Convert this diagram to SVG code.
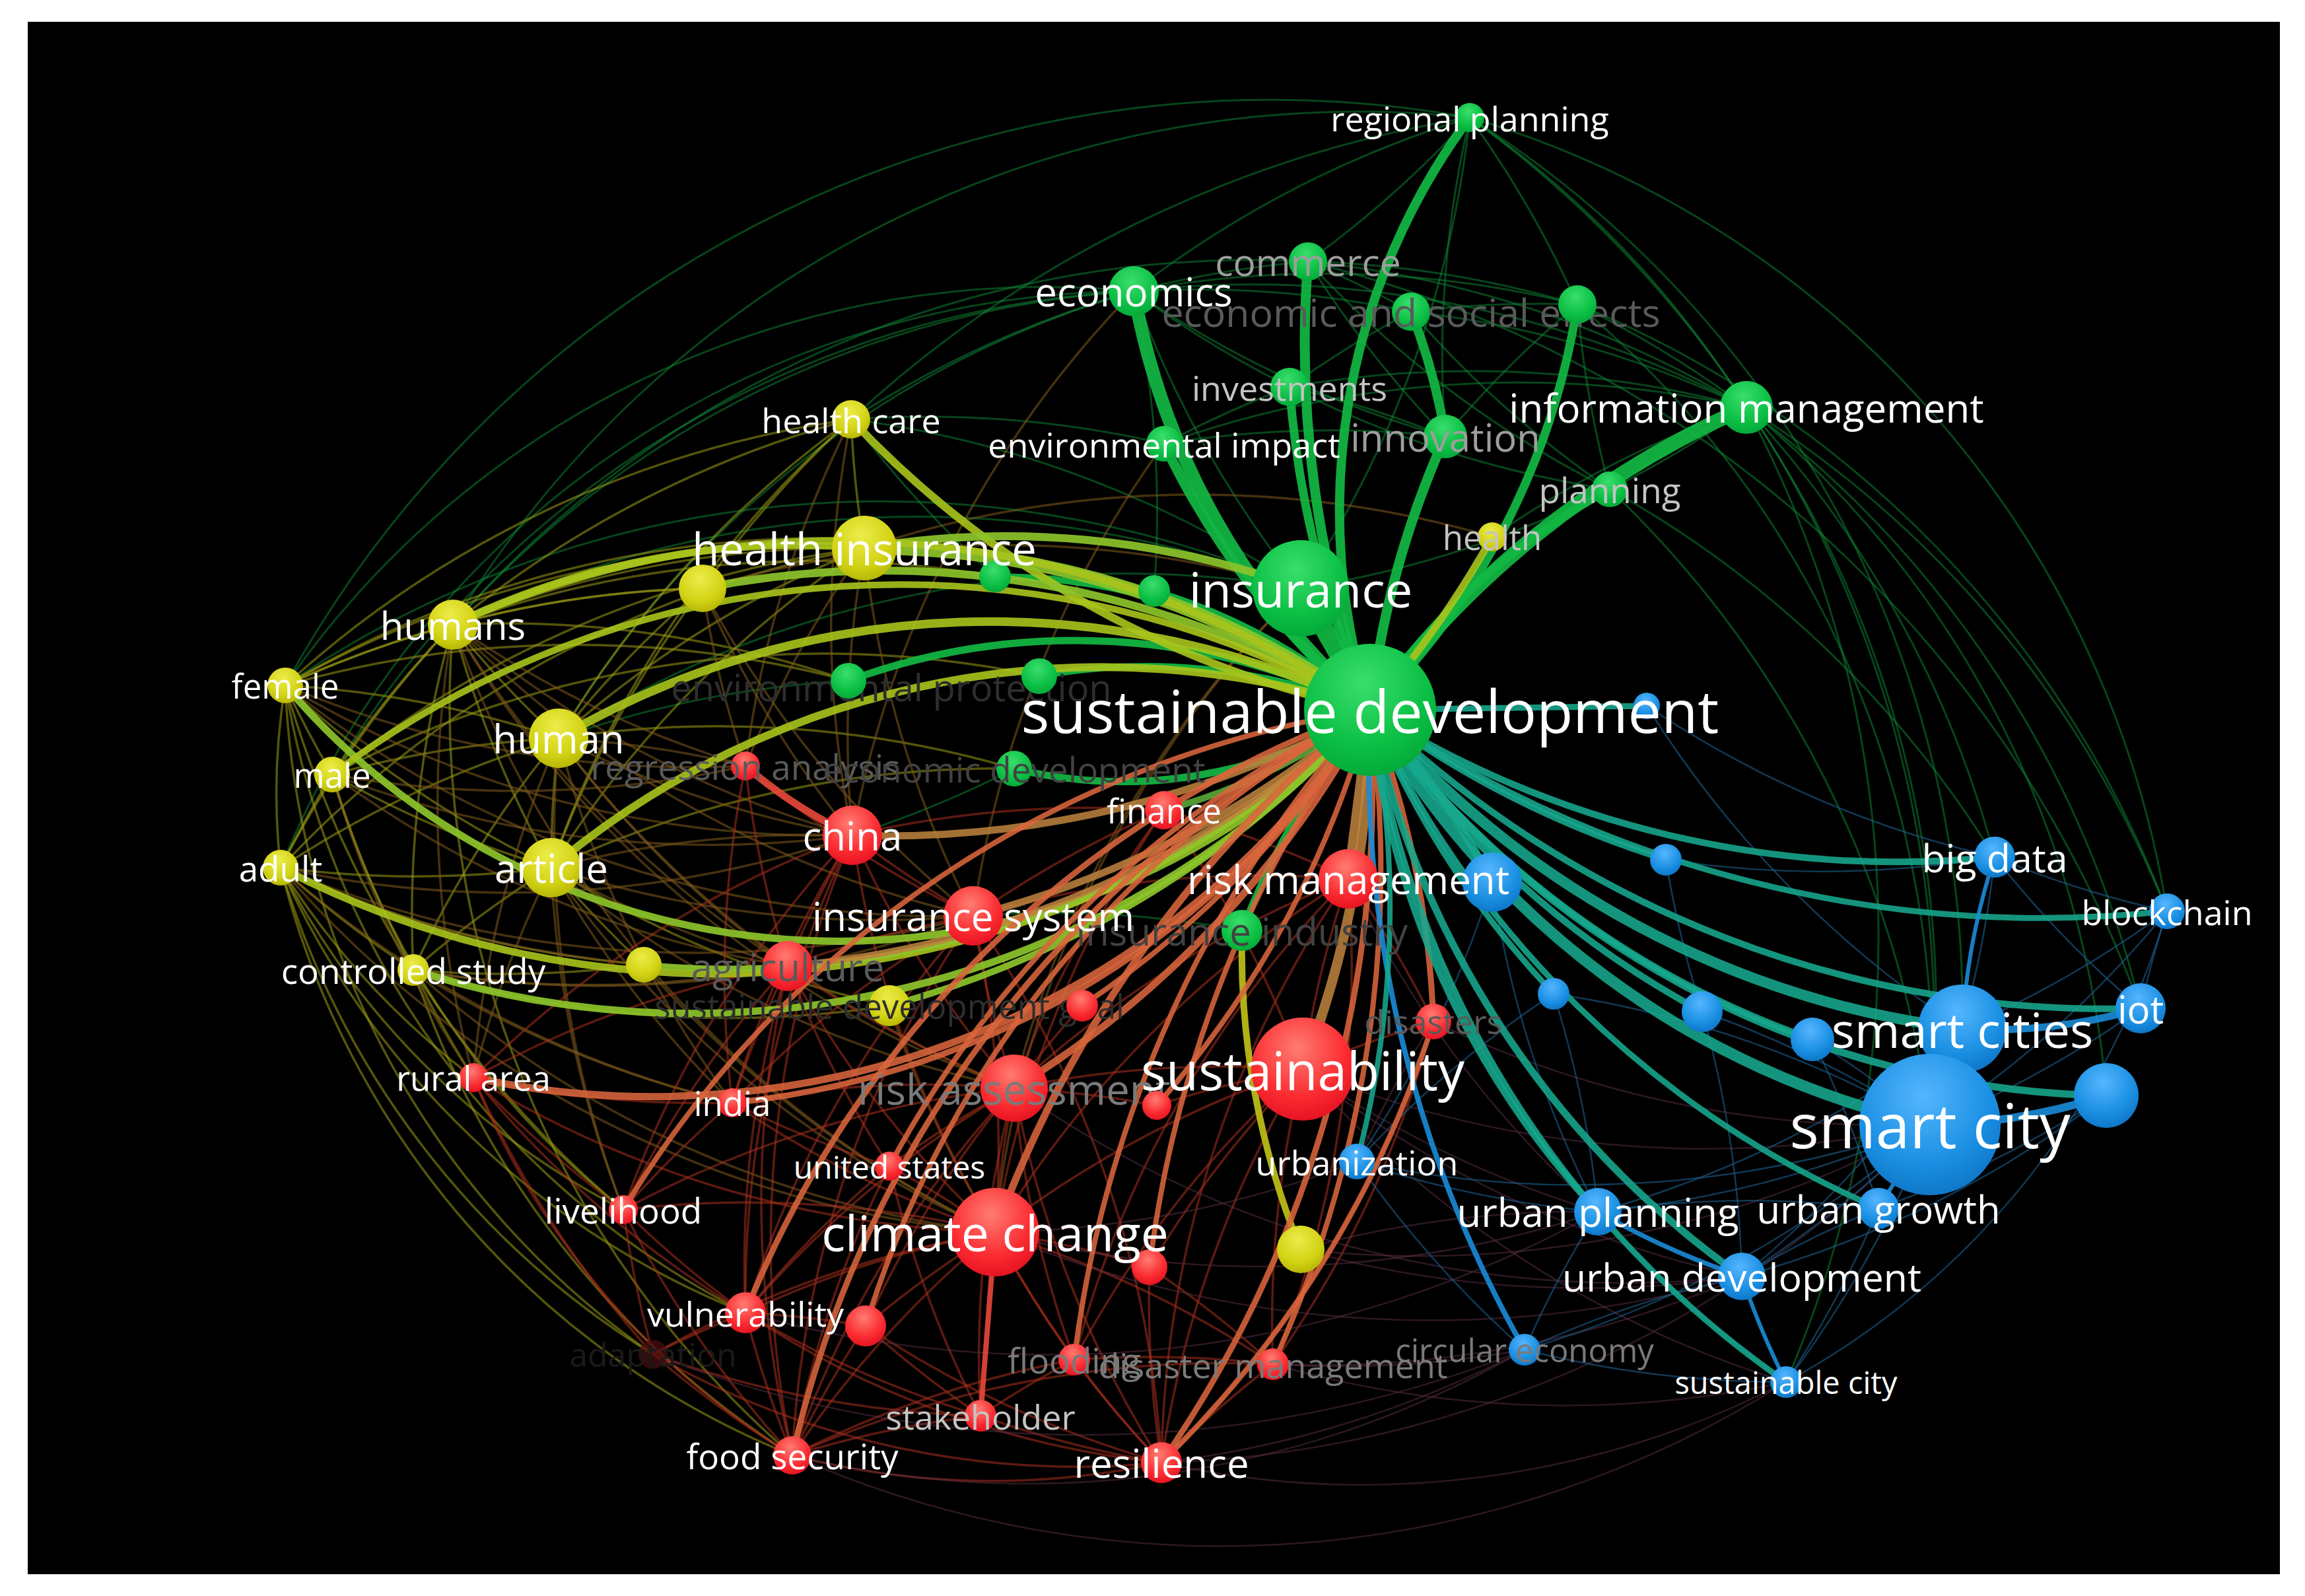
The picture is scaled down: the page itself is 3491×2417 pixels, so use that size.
<svg xmlns="http://www.w3.org/2000/svg" width="3491" height="2417" viewBox="0 0 3491 2417">
<defs>
<radialGradient id="gg" cx="0.45" cy="0.3" r="0.8"><stop offset="0" stop-color="#3ade6c"/><stop offset="0.6" stop-color="#0bbf44"/><stop offset="1" stop-color="#02a035"/></radialGradient>
<radialGradient id="gr" cx="0.45" cy="0.3" r="0.8"><stop offset="0" stop-color="#ff7c72"/><stop offset="0.6" stop-color="#fa2a30"/><stop offset="1" stop-color="#dc0a1c"/></radialGradient>
<radialGradient id="gy" cx="0.45" cy="0.3" r="0.8"><stop offset="0" stop-color="#ecec4a"/><stop offset="0.6" stop-color="#d2d214"/><stop offset="1" stop-color="#abab02"/></radialGradient>
<radialGradient id="gb" cx="0.45" cy="0.3" r="0.8"><stop offset="0" stop-color="#55b6ff"/><stop offset="0.6" stop-color="#1a8fe2"/><stop offset="1" stop-color="#0a6cbc"/></radialGradient>
</defs>
<style>
text{font-family:"Open Sans","DejaVu Sans",sans-serif;text-anchor:middle;dominant-baseline:central}
.lw{fill:#ffffff}
.f1{fill:#c4c4c4}.f2{fill:#9e9e9e}.f3{fill:#7a7a7a}.f4{fill:#5a5a5a}.f5{fill:#424242}.f6{fill:#2e2e2e}.f7{fill:#1a1a1a}
.ng{fill:url(#gg)}.nr{fill:url(#gr)}.ny{fill:url(#gy)}.nb{fill:url(#gb)}
.nd{fill:#4a0c0c;opacity:.75}
#edges path{fill:none;stroke-linecap:round}
.tg{stroke:#0d8a36;stroke-width:3;stroke-opacity:.5}
.ty{stroke:#9a9a14;stroke-width:3.5;stroke-opacity:.55}
.tm{stroke:#7d5a1c;stroke-width:3.5;stroke-opacity:.55}
.tr{stroke:#a8301e;stroke-width:3.5;stroke-opacity:.55}
.tp{stroke:#5c3046;stroke-width:2.5;stroke-opacity:.5}
.tb{stroke:#1c5f8e;stroke-width:2.5;stroke-opacity:.6}
.sg{stroke:#12b843;stroke-opacity:.92}
.sgo{stroke:#5aa83a;stroke-opacity:.9}
.sy{stroke:#a9c41c;stroke-opacity:.9}
.syg{stroke:#8cc42a;stroke-opacity:.92}
.syy{stroke:#c2c418;stroke-opacity:.9}
.so{stroke:#d9653c;stroke-opacity:.88}
.som{stroke:#c0843e;stroke-opacity:.85}
.sr{stroke:#e8483a;stroke-opacity:.9}
.st{stroke:#17a98e;stroke-opacity:.88}
.sb{stroke:#1a8cd8;stroke-opacity:.9}
</style>
<rect x="0" y="0" width="3491" height="2417" fill="#ffffff"/>
<rect x="42" y="33" width="3411" height="2351" fill="#000000"/>
<g id="edges">
<g id="thin-green">
<path class="tg" d="M1717,441 A1600 1600 0 0 1 1981,396"/>
<path class="tg" d="M1717,441 A1600 1600 0 0 1 2137,472"/>
<path class="tg" d="M1717,441 A1600 1600 0 0 1 2389,461"/>
<path class="tg" d="M1717,441 A1600 1600 0 0 0 1953,586"/>
<path class="tg" d="M1717,441 A1600 1600 0 0 0 2189,661"/>
<path class="tg" d="M1717,441 A1600 1600 0 0 1 2645,617"/>
<path class="tg" d="M1717,441 A1600 1600 0 0 1 2226,178"/>
<path class="tg" d="M1717,441 A1600 1600 0 0 0 1289,635"/>
<path class="tg" d="M1717,441 A1500 1500 0 0 0 686,946"/>
<path class="tg" d="M1717,441 A1400 1400 0 0 0 432,1038"/>
<path class="tg" d="M1717,441 A1500 1500 0 0 0 846,1118"/>
<path class="tg" d="M1717,441 A1500 1500 0 0 0 503,1173"/>
<path class="tg" d="M1717,441 A1400 1400 0 0 0 425,1314"/>
<path class="tg" d="M1981,396 A1600 1600 0 0 0 686,946"/>
<path class="tg" d="M1970,891 A1600 1600 0 0 0 846,1118"/>
<path class="tg" d="M1970,891 A1600 1600 0 0 0 686,946"/>
<path class="tg" d="M1970,891 A1600 1600 0 0 0 432,1038"/>
<path class="tg" d="M2226,178 A1700 1700 0 0 0 432,1038"/>
<path class="tg" d="M2226,178 A1600 1600 0 0 0 686,946"/>
<path class="tg" d="M2226,178 A1800 1800 0 0 0 1289,635"/>
<path class="tg" d="M1981,396 A1600 1600 0 0 1 2137,472"/>
<path class="tg" d="M1981,396 A1600 1600 0 0 1 2389,461"/>
<path class="tg" d="M1981,396 A1600 1600 0 0 1 2645,617"/>
<path class="tg" d="M1981,396 A1600 1600 0 0 0 2226,178"/>
<path class="tg" d="M1981,396 A1600 1600 0 0 0 2189,661"/>
<path class="tg" d="M1981,396 A1600 1600 0 0 0 2438,741"/>
<path class="tg" d="M2137,472 A1600 1600 0 0 1 2389,461"/>
<path class="tg" d="M2137,472 A1600 1600 0 0 1 2645,617"/>
<path class="tg" d="M2137,472 A1600 1600 0 0 0 2438,741"/>
<path class="tg" d="M2137,472 A1600 1600 0 0 0 1953,586"/>
<path class="tg" d="M2226,178 A1500 1500 0 0 1 2645,617"/>
<path class="tg" d="M2226,178 A1600 1600 0 0 1 2389,461"/>
<path class="tg" d="M2226,178 A1600 1600 0 0 0 2189,661"/>
<path class="tg" d="M2389,461 A1600 1600 0 0 1 2645,617"/>
<path class="tg" d="M2389,461 A1600 1600 0 0 0 2438,741"/>
<path class="tg" d="M2389,461 A1600 1600 0 0 0 2189,661"/>
<path class="tg" d="M1953,586 A1600 1600 0 0 1 2645,617"/>
<path class="tg" d="M1953,586 A1600 1600 0 0 1 2189,661"/>
<path class="tg" d="M1953,586 A1600 1600 0 0 0 1763,672"/>
<path class="tg" d="M1953,586 A1600 1600 0 0 0 2438,741"/>
<path class="tg" d="M1763,672 A1600 1600 0 0 1 2189,661"/>
<path class="tg" d="M1763,672 A1600 1600 0 0 1 2645,617"/>
<path class="tg" d="M1763,672 A1600 1600 0 0 0 1289,635"/>
<path class="tg" d="M2645,617 A1600 1600 0 0 0 2438,741"/>
<path class="tg" d="M2645,617 A1600 1600 0 0 0 2260,813"/>
<path class="tg" d="M2645,617 A1600 1600 0 0 1 2923,1703"/>
<path class="tg" d="M2645,617 A1600 1600 0 0 1 3021,1298"/>
<path class="tg" d="M2645,617 A1600 1600 0 0 1 3282,1380"/>
<path class="tg" d="M2645,617 A1600 1600 0 0 1 3242,1527"/>
<path class="tg" d="M2645,617 A1700 1700 0 0 1 2705,2093"/>
<path class="tg" d="M2645,617 A1500 1500 0 0 1 3190,1659"/>
<path class="tg" d="M2226,178 A1500 1500 0 0 1 3282,1380"/>
<path class="tg" d="M2226,178 A1700 1700 0 0 1 2923,1703"/>
<path class="tg" d="M2226,178 A1600 1600 0 0 1 2972,1558"/>
<path class="tg" d="M2389,461 A1500 1500 0 0 1 2923,1703"/>
<path class="tg" d="M2389,461 A1600 1600 0 0 1 3282,1380"/>
<path class="tg" d="M1981,396 A1800 1800 0 0 1 3242,1527"/>
<path class="tg" d="M2438,741 A1600 1600 0 0 1 2923,1703"/>
<path class="tg" d="M2438,741 A1600 1600 0 0 1 3021,1298"/>
<path class="tg" d="M1970,891 A1600 1600 0 0 1 1717,441"/>
<path class="tg" d="M1970,891 A1600 1600 0 0 0 2645,617"/>
<path class="tg" d="M1970,891 A1600 1600 0 0 0 1289,635"/>
<path class="tg" d="M1970,891 A1600 1600 0 0 0 2226,178"/>
<path class="tg" d="M1507,873 A1600 1600 0 0 1 1289,635"/>
<path class="tg" d="M1748,895 A1600 1600 0 0 0 1717,441"/>
<path class="tg" d="M1285,1031 A1600 1600 0 0 0 846,1118"/>
<path class="tg" d="M1536,1164 A1600 1600 0 0 1 1291,1265"/>
<path class="tg" d="M1881,1409 A1600 1600 0 0 0 1474,1387"/>
</g>
<g id="thin-yellow">
<path class="ty" d="M432,1038 A1600 1600 0 0 0 503,1173"/>
<path class="ty" d="M432,1038 A1000 1000 0 0 0 425,1314"/>
<path class="ty" d="M432,1038 A1600 1600 0 0 1 846,1118"/>
<path class="ty" d="M432,1038 A1600 1600 0 0 0 835,1314"/>
<path class="ty" d="M432,1038 A1600 1600 0 0 1 686,946"/>
<path class="ty" d="M432,1038 A1600 1600 0 0 0 626,1469"/>
<path class="ty" d="M432,1038 A1600 1600 0 0 1 1289,635"/>
<path class="ty" d="M432,1038 A1600 1600 0 0 1 1064,891"/>
<path class="ty" d="M432,1038 A1600 1600 0 0 1 1309,830"/>
<path class="ty" d="M503,1173 A1600 1600 0 0 0 425,1314"/>
<path class="ty" d="M503,1173 A1600 1600 0 0 1 846,1118"/>
<path class="ty" d="M503,1173 A1600 1600 0 0 0 835,1314"/>
<path class="ty" d="M503,1173 A1600 1600 0 0 1 686,946"/>
<path class="ty" d="M503,1173 A1600 1600 0 0 0 626,1469"/>
<path class="ty" d="M503,1173 A1600 1600 0 0 1 1309,830"/>
<path class="ty" d="M425,1314 A1600 1600 0 0 1 846,1118"/>
<path class="ty" d="M425,1314 A1600 1600 0 0 0 835,1314"/>
<path class="ty" d="M425,1314 A1600 1600 0 0 0 626,1469"/>
<path class="ty" d="M425,1314 A1600 1600 0 0 1 686,946"/>
<path class="ty" d="M425,1314 A1600 1600 0 0 0 975,1461"/>
<path class="ty" d="M425,1314 A1600 1600 0 0 1 1309,830"/>
<path class="ty" d="M686,946 A1600 1600 0 0 0 846,1118"/>
<path class="ty" d="M686,946 A1600 1600 0 0 0 835,1314"/>
<path class="ty" d="M686,946 A1600 1600 0 0 1 1309,830"/>
<path class="ty" d="M686,946 A1600 1600 0 0 1 1289,635"/>
<path class="ty" d="M686,946 A1600 1600 0 0 0 626,1469"/>
<path class="ty" d="M686,946 A1600 1600 0 0 1 1064,891"/>
<path class="ty" d="M846,1118 A1600 1600 0 0 0 835,1314"/>
<path class="ty" d="M846,1118 A1600 1600 0 0 1 1309,830"/>
<path class="ty" d="M846,1118 A1600 1600 0 0 0 626,1469"/>
<path class="ty" d="M846,1118 A1600 1600 0 0 1 1064,891"/>
<path class="ty" d="M846,1118 A1600 1600 0 0 1 1289,635"/>
<path class="ty" d="M835,1314 A1600 1600 0 0 0 626,1469"/>
<path class="ty" d="M835,1314 A1600 1600 0 0 1 1309,830"/>
<path class="ty" d="M835,1314 A1600 1600 0 0 1 1064,891"/>
<path class="ty" d="M835,1314 A1600 1600 0 0 0 975,1461"/>
<path class="ty" d="M835,1314 A1600 1600 0 0 0 1347,1523"/>
<path class="ty" d="M835,1314 A1600 1600 0 0 1 1289,635"/>
<path class="ty" d="M626,1469 A1600 1600 0 0 0 975,1461"/>
<path class="ty" d="M626,1469 A1600 1600 0 0 0 1347,1523"/>
<path class="ty" d="M1289,635 A1600 1600 0 0 0 1064,891"/>
<path class="ty" d="M1289,635 A1600 1600 0 0 0 1309,830"/>
<path class="ty" d="M425,1314 A1200 1200 0 0 0 944,1832"/>
<path class="ty" d="M425,1314 A1200 1200 0 0 0 717,1632"/>
<path class="ty" d="M425,1314 A1300 1300 0 0 0 1200,2204"/>
<path class="ty" d="M432,1038 A1300 1300 0 0 0 1129,1988"/>
<path class="ty" d="M432,1038 A1300 1300 0 0 0 989,2051"/>
<path class="ty" d="M425,1314 A1300 1300 0 0 0 989,2051"/>
<path class="ty" d="M425,1314 A1300 1300 0 0 0 1129,1988"/>
<path class="ty" d="M626,1469 A1600 1600 0 0 0 717,1632"/>
<path class="ty" d="M626,1469 A1600 1600 0 0 0 944,1832"/>
<path class="ty" d="M626,1469 A1400 1400 0 0 0 1200,2204"/>
<path class="ty" d="M686,946 A1500 1500 0 0 0 1200,2204"/>
<path class="ty" d="M503,1173 A1300 1300 0 0 0 944,1832"/>
<path class="ty" d="M686,946 A1600 1600 0 0 1 1285,1031"/>
<path class="ty" d="M432,1038 A1600 1600 0 0 1 1285,1031"/>
<path class="ty" d="M503,1173 A1600 1600 0 0 1 1574,1024"/>
<path class="ty" d="M846,1118 A1600 1600 0 0 1 1536,1164"/>
<path class="ty" d="M835,1314 A1600 1600 0 0 1 1536,1164"/>
<path class="ty" d="M686,946 A1600 1600 0 0 1 1507,873"/>
<path class="ty" d="M432,1038 A1600 1600 0 0 1 1748,895"/>
</g>
<g id="thin-mixed">
<path class="tm" d="M686,946 A1600 1600 0 0 0 1291,1265"/>
<path class="tm" d="M846,1118 A1600 1600 0 0 0 1291,1265"/>
<path class="tm" d="M835,1314 A1600 1600 0 0 1 1291,1265"/>
<path class="tm" d="M835,1314 A1600 1600 0 0 0 1474,1387"/>
<path class="tm" d="M846,1118 A1600 1600 0 0 1 1129,1160"/>
<path class="tm" d="M835,1314 A1600 1600 0 0 0 1193,1463"/>
<path class="tm" d="M626,1469 A1600 1600 0 0 0 1109,1670"/>
<path class="tm" d="M835,1314 A1600 1600 0 0 0 1109,1670"/>
<path class="tm" d="M846,1118 A1600 1600 0 0 0 1536,1648"/>
<path class="tm" d="M686,946 A1600 1600 0 0 0 1507,1866"/>
<path class="tm" d="M1289,635 A1600 1600 0 0 0 1291,1265"/>
<path class="tm" d="M1309,830 A1600 1600 0 0 0 1474,1387"/>
<path class="tm" d="M1064,891 A1600 1600 0 0 0 1291,1265"/>
<path class="tm" d="M975,1461 A1600 1600 0 0 0 1507,1866"/>
<path class="tm" d="M1347,1523 A1600 1600 0 0 0 1507,1866"/>
<path class="tm" d="M1717,441 A1600 1600 0 0 0 1291,1265"/>
<path class="tm" d="M1763,672 A1600 1600 0 0 0 1474,1387"/>
<path class="tm" d="M1970,891 A1600 1600 0 0 0 1507,1866"/>
<path class="tm" d="M1970,891 A1600 1600 0 0 0 1536,1648"/>
<path class="tm" d="M1309,830 A1600 1600 0 0 1 2260,813"/>
<path class="tm" d="M1064,891 A1600 1600 0 0 1 1970,891"/>
<path class="tm" d="M432,1038 A1600 1600 0 0 0 1291,1265"/>
<path class="tm" d="M503,1173 A1600 1600 0 0 0 1291,1265"/>
<path class="tm" d="M425,1314 A1600 1600 0 0 0 1291,1265"/>
<path class="tm" d="M425,1314 A1600 1600 0 0 0 1474,1387"/>
<path class="tm" d="M432,1038 A1600 1600 0 0 0 1474,1387"/>
<path class="tm" d="M686,946 A1600 1600 0 0 0 1474,1387"/>
<path class="tm" d="M626,1469 A1600 1600 0 0 0 1474,1387"/>
<path class="tm" d="M626,1469 A1600 1600 0 0 0 1193,1463"/>
<path class="tm" d="M425,1314 A1600 1600 0 0 0 1193,1463"/>
<path class="tm" d="M503,1173 A1600 1600 0 0 0 1193,1463"/>
<path class="tm" d="M686,946 A1600 1600 0 0 0 1193,1463"/>
<path class="tm" d="M846,1118 A1600 1600 0 0 0 1193,1463"/>
<path class="tm" d="M686,946 A1600 1600 0 0 0 1129,1160"/>
<path class="tm" d="M503,1173 A1600 1600 0 0 0 1129,1160"/>
<path class="tm" d="M432,1038 A1600 1600 0 0 0 1129,1160"/>
<path class="tm" d="M425,1314 A1600 1600 0 0 0 1109,1670"/>
<path class="tm" d="M503,1173 A1600 1600 0 0 0 717,1632"/>
<path class="tm" d="M686,946 A1600 1600 0 0 0 717,1632"/>
<path class="tm" d="M846,1118 A1600 1600 0 0 0 717,1632"/>
<path class="tm" d="M835,1314 A1600 1600 0 0 0 717,1632"/>
<path class="tm" d="M846,1118 A1600 1600 0 0 0 1109,1670"/>
<path class="tm" d="M686,946 A1600 1600 0 0 0 1536,1648"/>
<path class="tm" d="M835,1314 A1600 1600 0 0 0 1536,1648"/>
<path class="tm" d="M835,1314 A1600 1600 0 0 0 1507,1866"/>
<path class="tm" d="M626,1469 A1600 1600 0 0 0 1507,1866"/>
<path class="tm" d="M425,1314 A1600 1600 0 0 0 1507,1866"/>
<path class="tm" d="M835,1314 A1600 1600 0 0 0 944,1832"/>
<path class="tm" d="M846,1118 A1600 1600 0 0 0 944,1832"/>
<path class="tm" d="M1289,635 A1600 1600 0 0 0 1129,1160"/>
<path class="tm" d="M1309,830 A1600 1600 0 0 0 1291,1265"/>
<path class="tm" d="M1309,830 A1600 1600 0 0 0 1129,1160"/>
<path class="tm" d="M1064,891 A1600 1600 0 0 0 1474,1387"/>
<path class="tm" d="M1064,891 A1600 1600 0 0 0 1129,1160"/>
</g>
<g id="thin-red">
<path class="tr" d="M1291,1265 A1600 1600 0 0 0 1474,1387"/>
<path class="tr" d="M1291,1265 A1600 1600 0 0 0 1193,1463"/>
<path class="tr" d="M1291,1265 A1600 1600 0 0 0 1109,1670"/>
<path class="tr" d="M1291,1265 A1600 1600 0 0 0 1536,1648"/>
<path class="tr" d="M1291,1265 A1600 1600 0 0 0 1507,1866"/>
<path class="tr" d="M1291,1265 A1600 1600 0 0 1 1763,1227"/>
<path class="tr" d="M1291,1265 A1600 1600 0 0 0 717,1632"/>
<path class="tr" d="M1291,1265 A1600 1600 0 0 0 944,1832"/>
<path class="tr" d="M1291,1265 A1600 1600 0 0 0 1129,1988"/>
<path class="tr" d="M1291,1265 A1600 1600 0 0 0 1200,2204"/>
<path class="tr" d="M1474,1387 A1600 1600 0 0 0 1193,1463"/>
<path class="tr" d="M1474,1387 A1600 1600 0 0 1 1507,1866"/>
<path class="tr" d="M1474,1387 A1600 1600 0 0 0 1536,1648"/>
<path class="tr" d="M1474,1387 A1600 1600 0 0 1 2042,1331"/>
<path class="tr" d="M1474,1387 A1600 1600 0 0 1 1763,1227"/>
<path class="tr" d="M1474,1387 A1600 1600 0 0 0 1109,1670"/>
<path class="tr" d="M1474,1387 A1600 1600 0 0 0 1129,1988"/>
<path class="tr" d="M1474,1387 A1600 1600 0 0 0 1200,2204"/>
<path class="tr" d="M1474,1387 A1600 1600 0 0 1 1759,2215"/>
<path class="tr" d="M1193,1463 A1600 1600 0 0 0 1109,1670"/>
<path class="tr" d="M1193,1463 A1600 1600 0 0 0 717,1632"/>
<path class="tr" d="M1193,1463 A1600 1600 0 0 0 944,1832"/>
<path class="tr" d="M1193,1463 A1600 1600 0 0 0 1129,1988"/>
<path class="tr" d="M1193,1463 A1600 1600 0 0 0 1507,1866"/>
<path class="tr" d="M1193,1463 A1600 1600 0 0 0 1347,1766"/>
<path class="tr" d="M1193,1463 A1600 1600 0 0 0 1200,2204"/>
<path class="tr" d="M1193,1463 A1600 1600 0 0 0 1536,1648"/>
<path class="tr" d="M1129,1160 A1600 1600 0 0 0 1193,1463"/>
<path class="tr" d="M1129,1160 A1600 1600 0 0 0 1109,1670"/>
<path class="tr" d="M1129,1160 A1600 1600 0 0 0 1474,1387"/>
<path class="tr" d="M717,1632 A1600 1600 0 0 0 1109,1670"/>
<path class="tr" d="M717,1632 A1600 1600 0 0 0 944,1832"/>
<path class="tr" d="M717,1632 A1600 1600 0 0 0 1129,1988"/>
<path class="tr" d="M717,1632 A1200 1200 0 0 0 1200,2204"/>
<path class="tr" d="M717,1632 A1600 1600 0 0 0 989,2051"/>
<path class="tr" d="M717,1632 A1600 1600 0 0 0 1507,1866"/>
<path class="tr" d="M1109,1670 A1600 1600 0 0 0 1507,1866"/>
<path class="tr" d="M1109,1670 A1600 1600 0 0 0 1347,1766"/>
<path class="tr" d="M1109,1670 A1600 1600 0 0 0 944,1832"/>
<path class="tr" d="M1109,1670 A1600 1600 0 0 1 1536,1648"/>
<path class="tr" d="M1536,1648 A1600 1600 0 0 0 1507,1866"/>
<path class="tr" d="M1536,1648 A1600 1600 0 0 0 1347,1766"/>
<path class="tr" d="M1536,1648 A1600 1600 0 0 1 1973,1619"/>
<path class="tr" d="M1536,1648 A1600 1600 0 0 0 1627,2059"/>
<path class="tr" d="M1536,1648 A1600 1600 0 0 1 1752,1674"/>
<path class="tr" d="M1536,1648 A1600 1600 0 0 0 1759,2215"/>
<path class="tr" d="M1536,1648 A1600 1600 0 0 0 1129,1988"/>
<path class="tr" d="M1536,1648 A1600 1600 0 0 0 1200,2204"/>
<path class="tr" d="M1536,1648 A1600 1600 0 0 0 944,1832"/>
<path class="tr" d="M1536,1648 A1600 1600 0 0 0 1311,2008"/>
<path class="tr" d="M1536,1648 A1600 1600 0 0 0 1485,2144"/>
<path class="tr" d="M1347,1766 A1600 1600 0 0 1 1507,1866"/>
<path class="tr" d="M1347,1766 A1600 1600 0 0 0 1129,1988"/>
<path class="tr" d="M1347,1766 A1600 1600 0 0 0 1200,2204"/>
<path class="tr" d="M1347,1766 A1600 1600 0 0 0 1485,2144"/>
<path class="tr" d="M944,1832 A1600 1600 0 0 0 1129,1988"/>
<path class="tr" d="M944,1832 A1600 1600 0 0 0 1200,2204"/>
<path class="tr" d="M944,1832 A1600 1600 0 0 0 989,2051"/>
<path class="tr" d="M944,1832 A1600 1600 0 0 1 1507,1866"/>
<path class="tr" d="M1507,1866 A1600 1600 0 0 0 1129,1988"/>
<path class="tr" d="M1507,1866 A1600 1600 0 0 0 1200,2204"/>
<path class="tr" d="M1507,1866 A1600 1600 0 0 0 1627,2059"/>
<path class="tr" d="M1507,1866 A1600 1600 0 0 0 1759,2215"/>
<path class="tr" d="M1507,1866 A1600 1600 0 0 1 1928,2066"/>
<path class="tr" d="M1507,1866 A1600 1600 0 0 0 1311,2008"/>
<path class="tr" d="M1507,1866 A1600 1600 0 0 1 1741,1919"/>
<path class="tr" d="M1507,1866 A1600 1600 0 0 1 1973,1619"/>
<path class="tr" d="M1507,1866 A1600 1600 0 0 0 989,2051"/>
<path class="tr" d="M1129,1988 A1600 1600 0 0 0 1200,2204"/>
<path class="tr" d="M1129,1988 A1600 1600 0 0 0 989,2051"/>
<path class="tr" d="M1129,1988 A1600 1600 0 0 1 1311,2008"/>
<path class="tr" d="M1129,1988 A1600 1600 0 0 0 1485,2144"/>
<path class="tr" d="M1129,1988 A1400 1400 0 0 0 1759,2215"/>
<path class="tr" d="M1311,2008 A1600 1600 0 0 0 1200,2204"/>
<path class="tr" d="M1311,2008 A1600 1600 0 0 0 1485,2144"/>
<path class="tr" d="M1311,2008 A1600 1600 0 0 0 1759,2215"/>
<path class="tr" d="M1485,2144 A1600 1600 0 0 0 1200,2204"/>
<path class="tr" d="M1485,2144 A1600 1600 0 0 0 1759,2215"/>
<path class="tr" d="M1485,2144 A1600 1600 0 0 1 1627,2059"/>
<path class="tr" d="M1627,2059 A1600 1600 0 0 0 1759,2215"/>
<path class="tr" d="M1627,2059 A1600 1600 0 0 1 1928,2066"/>
<path class="tr" d="M1627,2059 A1600 1600 0 0 0 1200,2204"/>
<path class="tr" d="M1928,2066 A1600 1600 0 0 0 1759,2215"/>
<path class="tr" d="M1928,2066 A1600 1600 0 0 1 1973,1619"/>
<path class="tr" d="M1928,2066 A1600 1600 0 0 0 1200,2204"/>
<path class="tr" d="M1759,2215 A1200 1200 0 0 1 1200,2204"/>
<path class="tr" d="M989,2051 A1600 1600 0 0 0 1200,2204"/>
<path class="tr" d="M989,2051 A1600 1600 0 0 0 1485,2144"/>
<path class="tr" d="M989,2051 A1300 1300 0 0 0 1759,2215"/>
<path class="tr" d="M1973,1619 A1600 1600 0 0 1 2042,1331"/>
<path class="tr" d="M1973,1619 A1600 1600 0 0 1 2171,1547"/>
<path class="tr" d="M1973,1619 A1600 1600 0 0 0 1759,2215"/>
<path class="tr" d="M1973,1619 A1600 1600 0 0 0 1627,2059"/>
<path class="tr" d="M1973,1619 A1600 1600 0 0 0 1741,1919"/>
<path class="tr" d="M1973,1619 A1600 1600 0 0 0 1752,1674"/>
<path class="tr" d="M1973,1619 A1600 1600 0 0 0 1763,1227"/>
<path class="tr" d="M2171,1547 A1600 1600 0 0 0 2042,1331"/>
<path class="tr" d="M2171,1547 A1600 1600 0 0 1 1928,2066"/>
<path class="tr" d="M2171,1547 A1600 1600 0 0 1 1759,2215"/>
<path class="tr" d="M1763,1227 A1600 1600 0 0 1 2042,1331"/>
<path class="tr" d="M1763,1227 A1600 1600 0 0 0 1507,1866"/>
<path class="tr" d="M1763,1227 A1600 1600 0 0 0 1536,1648"/>
<path class="tr" d="M2042,1331 A1600 1600 0 0 0 1536,1648"/>
<path class="tr" d="M2042,1331 A1600 1600 0 0 0 1507,1866"/>
<path class="tr" d="M2042,1331 A1600 1600 0 0 0 1759,2215"/>
<path class="tr" d="M2042,1331 A1600 1600 0 0 0 1627,2059"/>
<path class="tr" d="M2042,1331 A1600 1600 0 0 1 1928,2066"/>
<path class="tr" d="M1741,1919 A1600 1600 0 0 0 1759,2215"/>
<path class="tr" d="M1741,1919 A1600 1600 0 0 1 1928,2066"/>
<path class="tr" d="M1639,1523 A1600 1600 0 0 0 1536,1648"/>
</g>
<g id="thin-cross">
<path class="tp" d="M1759,2215 A1400 1400 0 0 0 2705,2093"/>
<path class="tp" d="M1200,2204 A1500 1500 0 0 0 2309,2044"/>
<path class="tp" d="M1200,2204 A1600 1600 0 0 0 2705,2093"/>
<path class="tp" d="M1928,2066 A1600 1600 0 0 0 2309,2044"/>
<path class="tp" d="M1759,2215 A1600 1600 0 0 0 2309,2044"/>
<path class="tp" d="M1928,2066 A1600 1600 0 0 0 2638,1933"/>
<path class="tp" d="M1973,1619 A1600 1600 0 0 0 2420,1835"/>
<path class="tp" d="M1973,1619 A1600 1600 0 0 0 2638,1933"/>
<path class="tp" d="M1507,1866 A1600 1600 0 0 0 2420,1835"/>
<path class="tp" d="M1507,1866 A1700 1700 0 0 0 2638,1933"/>
<path class="tp" d="M1973,1619 A1600 1600 0 0 0 2923,1703"/>
<path class="tp" d="M2171,1547 A1600 1600 0 0 0 2923,1703"/>
<path class="tp" d="M2042,1331 A1600 1600 0 0 0 2420,1835"/>
<path class="tp" d="M1536,1648 A1600 1600 0 0 0 2638,1933"/>
<path class="tp" d="M1973,1619 A1600 1600 0 0 0 2705,2093"/>
<path class="tp" d="M1928,2066 A1600 1600 0 0 0 2705,2093"/>
<path class="tp" d="M989,2051 A1800 1800 0 0 0 2309,2044"/>
<path class="tp" d="M1129,1988 A1700 1700 0 0 0 2420,1835"/>
<path class="tp" d="M1759,2215 A1700 1700 0 0 0 2923,1703"/>
<path class="tp" d="M2171,1547 A1600 1600 0 0 0 2055,1759"/>
<path class="tp" d="M1507,1866 A1600 1600 0 0 0 2055,1759"/>
<path class="tp" d="M1970,1892 A1600 1600 0 0 0 2638,1933"/>
<path class="tp" d="M1970,1892 A1600 1600 0 0 1 2420,1835"/>
<path class="tp" d="M1970,1892 A1600 1600 0 0 0 2923,1703"/>
</g>
<g id="thin-blue">
<path class="tb" d="M2923,1703 A1600 1600 0 0 0 3021,1298"/>
<path class="tb" d="M2923,1703 A1600 1600 0 0 0 3282,1380"/>
<path class="tb" d="M2923,1703 A1600 1600 0 0 0 3242,1527"/>
<path class="tb" d="M2923,1703 A1600 1600 0 0 1 2845,1830"/>
<path class="tb" d="M2923,1703 A1600 1600 0 0 1 2638,1933"/>
<path class="tb" d="M2923,1703 A1600 1600 0 0 1 2420,1835"/>
<path class="tb" d="M2923,1703 A1600 1600 0 0 1 2705,2093"/>
<path class="tb" d="M2923,1703 A1600 1600 0 0 1 2309,2044"/>
<path class="tb" d="M2923,1703 A1600 1600 0 0 1 2055,1759"/>
<path class="tb" d="M2923,1703 A1600 1600 0 0 0 2745,1574"/>
<path class="tb" d="M2923,1703 A1600 1600 0 0 0 2578,1532"/>
<path class="tb" d="M2923,1703 A1600 1600 0 0 0 2353,1505"/>
<path class="tb" d="M2972,1558 A1600 1600 0 0 0 3282,1380"/>
<path class="tb" d="M2972,1558 A1600 1600 0 0 1 2845,1830"/>
<path class="tb" d="M2972,1558 A1600 1600 0 0 1 2420,1835"/>
<path class="tb" d="M2972,1558 A1600 1600 0 0 1 2638,1933"/>
<path class="tb" d="M2420,1835 A1600 1600 0 0 1 2845,1830"/>
<path class="tb" d="M2420,1835 A1600 1600 0 0 1 2055,1759"/>
<path class="tb" d="M2420,1835 A1600 1600 0 0 0 2309,2044"/>
<path class="tb" d="M2420,1835 A1600 1600 0 0 0 2705,2093"/>
<path class="tb" d="M2638,1933 A1600 1600 0 0 1 2845,1830"/>
<path class="tb" d="M2638,1933 A1600 1600 0 0 0 2309,2044"/>
<path class="tb" d="M2845,1830 A1600 1600 0 0 1 2705,2093"/>
<path class="tb" d="M2309,2044 A1600 1600 0 0 0 2705,2093"/>
<path class="tb" d="M2309,2044 A1600 1600 0 0 1 2055,1759"/>
<path class="tb" d="M2055,1759 A1600 1600 0 0 1 2353,1505"/>
<path class="tb" d="M3021,1298 A1600 1600 0 0 0 3282,1380"/>
<path class="tb" d="M3021,1298 A1600 1600 0 0 0 3242,1527"/>
<path class="tb" d="M3282,1380 A1600 1600 0 0 0 3242,1527"/>
<path class="tb" d="M2494,1069 A1600 1600 0 0 0 3021,1298"/>
<path class="tb" d="M2523,1302 A1600 1600 0 0 0 3021,1298"/>
<path class="tb" d="M2260,1336 A1600 1600 0 0 1 2055,1759"/>
<path class="tb" d="M2260,1336 A1600 1600 0 0 0 2420,1835"/>
<path class="tb" d="M3190,1659 A1600 1600 0 0 1 2845,1830"/>
<path class="tb" d="M3190,1659 A1600 1600 0 0 1 2638,1933"/>
<path class="tb" d="M3282,1380 A1200 1200 0 0 1 2705,2093"/>
<path class="tb" d="M2578,1532 A1600 1600 0 0 1 2638,1933"/>
<path class="tb" d="M2745,1574 A1600 1600 0 0 1 2845,1830"/>
<path class="tb" d="M2353,1505 A1600 1600 0 0 1 2420,1835"/>
<path class="tb" d="M2523,1302 A1600 1600 0 0 0 2578,1532"/>
<path class="tb" d="M2494,1069 A1600 1600 0 0 0 2972,1558"/>
</g>
<g id="strong">
<path class="sg" stroke-width="28" d="M1970,891 L2075,1075"/>
<path class="sg" stroke-width="20" d="M1717,441 A1100 1100 0 0 0 2075,1075"/>
<path class="sg" stroke-width="15" d="M1981,396 A1600 1600 0 0 0 2075,1075"/>
<path class="sg" stroke-width="14" d="M2226,178 A1000 1000 0 0 0 2075,1075"/>
<path class="sg" stroke-width="14" d="M2137,472 A900 900 0 0 1 2189,661"/>
<path class="sg" stroke-width="15" d="M2189,661 A1400 1400 0 0 0 2075,1075"/>
<path class="sg" stroke-width="13" d="M2389,461 A1100 1100 0 0 1 2075,1075"/>
<path class="sg" stroke-width="22" d="M2645,617 A1400 1400 0 0 0 2075,1075"/>
<path class="sg" stroke-width="12" d="M2438,741 A1000 1000 0 0 0 2075,1075"/>
<path class="sg" stroke-width="13" d="M1953,586 A1500 1500 0 0 0 2075,1075"/>
<path class="sg" stroke-width="15" d="M1763,672 A1200 1200 0 0 0 2075,1075"/>
<path class="sg" stroke-width="10" d="M1507,873 A900 900 0 0 1 2075,1075"/>
<path class="sg" stroke-width="10" d="M1748,895 A900 900 0 0 1 2075,1075"/>
<path class="sg" stroke-width="11" d="M1285,1031 A1000 1000 0 0 1 2075,1075"/>
<path class="sg" stroke-width="10" d="M1574,1024 A900 900 0 0 1 2075,1075"/>
<path class="sg" stroke-width="11" d="M1536,1164 A700 700 0 0 0 2075,1075"/>
<path class="sg" stroke-width="10" d="M1881,1409 A1200 1200 0 0 1 2075,1075"/>
<path class="sgo" stroke-width="10" d="M1763,1227 A900 900 0 0 0 2075,1075"/>
<path class="sy" stroke-width="11" d="M2260,813 A1500 1500 0 0 1 2075,1075"/>
<path class="sy" stroke-width="12" d="M1289,635 A1500 1500 0 0 0 2075,1075"/>
<path class="syg" stroke-width="20" d="M1309,830 A1300 1300 0 0 1 2075,1075"/>
<path class="syg" stroke-width="12" d="M1309,830 A1300 1300 0 0 1 1970,891"/>
<path class="sy" stroke-width="11" d="M686,946 A1200 1200 0 0 1 1309,830"/>
<path class="syg" stroke-width="12" d="M1064,891 A1400 1400 0 0 1 2075,1075"/>
<path class="sy" stroke-width="11" d="M686,946 A1400 1400 0 0 1 2075,1075"/>
<path class="sy" stroke-width="13" d="M846,1118 A1300 1300 0 0 1 2075,1075"/>
<path class="sy" stroke-width="12" d="M835,1314 A1300 1300 0 0 1 2075,1075"/>
<path class="syg" stroke-width="11" d="M432,1038 A1100 1100 0 0 0 2075,1075"/>
<path class="sy" stroke-width="10" d="M503,1173 A1430 1430 0 0 1 2075,1075"/>
<path class="sy" stroke-width="11" d="M425,1314 A1430 1430 0 0 0 2075,1075"/>
<path class="syg" stroke-width="11" d="M626,1469 A1380 1380 0 0 0 2075,1075"/>
<path class="syg" stroke-width="9" d="M975,1461 A1400 1400 0 0 0 2075,1075"/>
<path class="syg" stroke-width="10" d="M1347,1523 A1500 1500 0 0 0 2075,1075"/>
<path class="syy" stroke-width="10" d="M1970,1892 A1200 1200 0 0 1 1881,1409"/>
<path class="sr" stroke-width="11" d="M1129,1160 A700 700 0 0 0 1291,1265"/>
<path class="som" stroke-width="11" d="M1291,1265 A1500 1500 0 0 0 2075,1075"/>
<path class="so" stroke-width="11" d="M717,1632 A1300 1300 0 0 0 2075,1075"/>
<path class="so" stroke-width="9" d="M1109,1670 A1300 1300 0 0 0 2075,1075"/>
<path class="som" stroke-width="10" d="M1193,1463 A1500 1500 0 0 0 2075,1075"/>
<path class="som" stroke-width="11" d="M1474,1387 A1500 1500 0 0 0 2075,1075"/>
<path class="so" stroke-width="8" d="M944,1832 A1600 1600 0 0 1 2075,1075"/>
<path class="so" stroke-width="11" d="M1536,1648 A1500 1500 0 0 0 2075,1075"/>
<path class="so" stroke-width="8" d="M1347,1766 A1600 1600 0 0 1 2075,1075"/>
<path class="so" stroke-width="11" d="M1507,1866 A1800 1800 0 0 1 2075,1075"/>
<path class="so" stroke-width="9" d="M1129,1988 A1600 1600 0 0 1 2075,1075"/>
<path class="so" stroke-width="8" d="M1311,2008 A1600 1600 0 0 1 2075,1075"/>
<path class="so" stroke-width="9" d="M1200,2204 A1700 1700 0 0 1 2075,1075"/>
<path class="sr" stroke-width="8" d="M1485,2144 L1507,1866"/>
<path class="so" stroke-width="8" d="M1627,2059 A1800 1800 0 0 1 2075,1075"/>
<path class="so" stroke-width="8" d="M1741,1919 A1800 1800 0 0 1 2075,1075"/>
<path class="so" stroke-width="9" d="M1759,2215 A1800 1800 0 0 0 2075,1075"/>
<path class="so" stroke-width="8" d="M1759,2215 A1600 1600 0 0 0 2171,1547"/>
<path class="so" stroke-width="8" d="M1928,2066 A1800 1800 0 0 0 2075,1075"/>
<path class="som" stroke-width="15" d="M1973,1619 A1500 1500 0 0 0 2075,1075"/>
<path class="som" stroke-width="15" d="M2042,1331 L2075,1075"/>
<path class="so" stroke-width="8" d="M1639,1523 A1500 1500 0 0 0 2075,1075"/>
<path class="so" stroke-width="8" d="M1752,1674 A1500 1500 0 0 0 2075,1075"/>
<path class="so" stroke-width="9" d="M2171,1547 A1500 1500 0 0 0 2075,1075"/>
<path class="st" stroke-width="9" d="M2075,1075 L2494,1069"/>
<path class="st" stroke-width="12" d="M2075,1075 A1200 1200 0 0 1 2260,1336"/>
<path class="st" stroke-width="9" d="M2075,1075 A1500 1500 0 0 0 2523,1302"/>
<path class="st" stroke-width="10" d="M2075,1075 A1500 1500 0 0 0 3021,1298"/>
<path class="st" stroke-width="9" d="M2075,1075 A1800 1800 0 0 0 3282,1380"/>
<path class="st" stroke-width="10" d="M2075,1075 A1600 1600 0 0 0 3242,1527"/>
<path class="st" stroke-width="16" d="M2075,1075 A1400 1400 0 0 0 2972,1558"/>
<path class="st" stroke-width="17" d="M2075,1075 A1300 1300 0 0 0 2923,1703"/>
<path class="st" stroke-width="11" d="M2075,1075 A1400 1400 0 0 0 3190,1659"/>
<path class="st" stroke-width="10" d="M2075,1075 A1400 1400 0 0 0 2745,1574"/>
<path class="st" stroke-width="10" d="M2075,1075 A1400 1400 0 0 0 2578,1532"/>
<path class="st" stroke-width="9" d="M2075,1075 A1400 1400 0 0 0 2353,1505"/>
<path class="st" stroke-width="9" d="M2075,1075 A1500 1500 0 0 0 2845,1830"/>
<path class="st" stroke-width="10" d="M2075,1075 A1300 1300 0 0 0 2420,1835"/>
<path class="st" stroke-width="11" d="M2075,1075 A1400 1400 0 0 0 2638,1933"/>
<path class="st" stroke-width="9" d="M2075,1075 A1500 1500 0 0 0 2705,2093"/>
<path class="sb" stroke-width="8" d="M2075,1075 A1800 1800 0 0 0 2309,2044"/>
<path class="st" stroke-width="8" d="M2075,1075 A1500 1500 0 0 1 2055,1759"/>
<path class="sb" stroke-width="11" d="M2972,1558 A800 800 0 0 0 3242,1527"/>
<path class="sb" stroke-width="12" d="M2923,1703 A900 900 0 0 0 3190,1659"/>
<path class="sb" stroke-width="6" d="M3021,1298 A1000 1000 0 0 0 2972,1558"/>
<path class="sb" stroke-width="6" d="M2923,1703 L2845,1830"/>
<path class="sb" stroke-width="7" d="M2420,1835 A1200 1200 0 0 0 2638,1933"/>
<path class="sb" stroke-width="6" d="M2638,1933 A1200 1200 0 0 0 2705,2093"/>
</g>
</g>
<g id="nodes">
<g id="n-economic-and-social-effects"><circle cx="2137" cy="472" r="29" class="ng"/><text x="2137" y="472" font-size="59" class="f4">economic and social effects</text></g>
<g id="n-commerce"><circle cx="1981" cy="396" r="29" class="ng"/><text x="1981" y="396" font-size="57" class="f2">commerce</text></g>
<g id="n-investments"><circle cx="1953" cy="586" r="29" class="ng"/><text x="1953" y="586" font-size="52" class="f1">investments</text></g>
<g id="n-innovation"><circle cx="2189" cy="661" r="33" class="ng"/><text x="2189" y="661" font-size="58" class="f2">innovation</text></g>
<g id="n-planning"><circle cx="2438" cy="741" r="27" class="ng"/><text x="2438" y="741" font-size="53" class="f1">planning</text></g>
<g id="n-health"><circle cx="2260" cy="813" r="22" class="ny"/><text x="2260" y="813" font-size="51" class="f1">health</text></g>
<g id="n-environmental-protection"><text x="1350" y="1040" font-size="56" class="f6">environmental protection</text></g>
<g id="n-regression-analysis"><circle cx="1129" cy="1160" r="22" class="nr"/><text x="1129" y="1160" font-size="53" class="f4">regression analysis</text></g>
<g id="n-economic-development"><circle cx="1536" cy="1164" r="27" class="ng"/><text x="1536" y="1164" font-size="53" class="f5">economic development</text></g>
<g id="n-insurance-industry"><circle cx="1881" cy="1409" r="31" class="ng"/><text x="1881" y="1409" font-size="58" class="f5">insurance industry</text></g>
<g id="n-agriculture"><circle cx="1193" cy="1463" r="38" class="nr"/><text x="1193" y="1463" font-size="58" class="f4">agriculture</text></g>
<g id="n-sustainable-development-goal"><circle cx="1347" cy="1523" r="31" class="ny"/><text x="1347" y="1523" font-size="51" class="f6">sustainable development goal</text></g>
<g id="n-disasters"><circle cx="2171" cy="1547" r="27" class="nr"/><text x="2171" y="1547" font-size="50" class="f4">disasters</text></g>
<g id="n-risk-assessment"><circle cx="1536" cy="1648" r="51" class="nr"/><text x="1536" y="1648" font-size="64" class="f3">risk assessment</text></g>
<g id="n-flooding"><circle cx="1627" cy="2059" r="24" class="nr"/><text x="1627" y="2059" font-size="53" class="f3">flooding</text></g>
<g id="n-disaster-management"><circle cx="1928" cy="2066" r="24" class="nr"/><text x="1928" y="2066" font-size="52" class="f3">disaster management</text></g>
<g id="n-stakeholder"><circle cx="1485" cy="2144" r="24" class="nr"/><text x="1485" y="2144" font-size="52" class="f1">stakeholder</text></g>
<g id="n-circular-economy"><circle cx="2309" cy="2044" r="24" class="nb"/><text x="2309" y="2044" font-size="49" class="f3">circular economy</text></g>
<g id="n-adaptation"><circle cx="989" cy="2051" r="22" class="nd"/><text x="989" y="2051" font-size="50" class="f7">adaptation</text></g>
<g id="n-green-a"><circle cx="2389" cy="461" r="29" class="ng"/></g>
<g id="n-green-b"><circle cx="1507" cy="873" r="24" class="ng"/></g>
<g id="n-green-c"><circle cx="1748" cy="895" r="24" class="ng"/></g>
<g id="n-green-d"><circle cx="1574" cy="1024" r="27" class="ng"/></g>
<g id="n-green-e"><circle cx="1285" cy="1031" r="27" class="ng"/></g>
<g id="n-yellow-a"><circle cx="1064" cy="891" r="36" class="ny"/></g>
<g id="n-yellow-b"><circle cx="975" cy="1461" r="27" class="ny"/></g>
<g id="n-yellow-c"><circle cx="1970" cy="1892" r="36" class="ny"/></g>
<g id="n-red-a"><circle cx="1639" cy="1523" r="24" class="nr"/></g>
<g id="n-red-b"><circle cx="1752" cy="1674" r="22" class="nr"/></g>
<g id="n-red-c"><circle cx="1741" cy="1919" r="27" class="nr"/></g>
<g id="n-red-d"><circle cx="1311" cy="2008" r="31" class="nr"/></g>
<g id="n-blue-a"><circle cx="2494" cy="1069" r="20" class="nb"/></g>
<g id="n-blue-b"><circle cx="2260" cy="1336" r="45" class="nb"/></g>
<g id="n-blue-c"><circle cx="2523" cy="1302" r="24" class="nb"/></g>
<g id="n-blue-d"><circle cx="3190" cy="1659" r="49" class="nb"/></g>
<g id="n-blue-e"><circle cx="2745" cy="1574" r="33" class="nb"/></g>
<g id="n-blue-f"><circle cx="2578" cy="1532" r="31" class="nb"/></g>
<g id="n-blue-g"><circle cx="2353" cy="1505" r="24" class="nb"/></g>
<g id="n-regional-planning"><circle cx="2226" cy="178" r="22" class="ng"/><text x="2226" y="178" font-size="52" class="lw">regional planning</text></g>
<g id="n-economics"><circle cx="1717" cy="441" r="38" class="ng"/><text x="1717" y="441" font-size="60" class="lw">economics</text></g>
<g id="n-environmental-impact"><circle cx="1763" cy="672" r="27" class="ng"/><text x="1763" y="672" font-size="52" class="lw">environmental impact</text></g>
<g id="n-information-management"><circle cx="2645" cy="617" r="40" class="ng"/><text x="2645" y="617" font-size="60" class="lw">information management</text></g>
<g id="n-insurance"><circle cx="1970" cy="891" r="73" class="ng"/><text x="1970" y="891" font-size="74" class="lw">insurance</text></g>
<g id="n-health-care"><circle cx="1289" cy="635" r="29" class="ny"/><text x="1289" y="635" font-size="52" class="lw">health care</text></g>
<g id="n-health-insurance"><circle cx="1309" cy="830" r="49" class="ny"/><text x="1309" y="830" font-size="67" class="lw">health insurance</text></g>
<g id="n-humans"><circle cx="686" cy="946" r="38" class="ny"/><text x="686" y="946" font-size="58" class="lw">humans</text></g>
<g id="n-female"><circle cx="432" cy="1038" r="27" class="ny"/><text x="432" y="1038" font-size="51" class="lw">female</text></g>
<g id="n-human"><circle cx="846" cy="1118" r="45" class="ny"/><text x="846" y="1118" font-size="60" class="lw">human</text></g>
<g id="n-male"><circle cx="503" cy="1173" r="27" class="ny"/><text x="503" y="1173" font-size="51" class="lw">male</text></g>
<g id="n-article"><circle cx="835" cy="1314" r="45" class="ny"/><text x="835" y="1314" font-size="60" class="lw">article</text></g>
<g id="n-adult"><circle cx="425" cy="1314" r="27" class="ny"/><text x="425" y="1314" font-size="53" class="lw">adult</text></g>
<g id="n-controlled-study"><circle cx="626" cy="1469" r="24" class="ny"/><text x="626" y="1469" font-size="53" class="lw">controlled study</text></g>
<g id="n-china"><circle cx="1291" cy="1265" r="45" class="nr"/><text x="1291" y="1265" font-size="60" class="lw">china</text></g>
<g id="n-finance"><circle cx="1763" cy="1227" r="29" class="nr"/><text x="1763" y="1227" font-size="51" class="lw">finance</text></g>
<g id="n-insurance-system"><circle cx="1474" cy="1387" r="45" class="nr"/><text x="1474" y="1387" font-size="60" class="lw">insurance system</text></g>
<g id="n-risk-management"><circle cx="2042" cy="1331" r="45" class="nr"/><text x="2042" y="1331" font-size="60" class="lw">risk management</text></g>
<g id="n-rural-area"><circle cx="717" cy="1632" r="22" class="nr"/><text x="717" y="1632" font-size="51" class="lw">rural area</text></g>
<g id="n-india"><circle cx="1109" cy="1670" r="22" class="nr"/><text x="1109" y="1670" font-size="51" class="lw">india</text></g>
<g id="n-sustainability"><circle cx="1973" cy="1619" r="78" class="nr"/><text x="1973" y="1619" font-size="80" class="lw">sustainability</text></g>
<g id="n-united-states"><circle cx="1347" cy="1766" r="22" class="nr"/><text x="1347" y="1766" font-size="48" class="lw">united states</text></g>
<g id="n-livelihood"><circle cx="944" cy="1832" r="22" class="nr"/><text x="944" y="1832" font-size="53" class="lw">livelihood</text></g>
<g id="n-climate-change"><circle cx="1507" cy="1866" r="67" class="nr"/><text x="1507" y="1866" font-size="75" class="lw">climate change</text></g>
<g id="n-vulnerability"><circle cx="1129" cy="1988" r="31" class="nr"/><text x="1129" y="1988" font-size="52" class="lw">vulnerability</text></g>
<g id="n-food-security"><circle cx="1200" cy="2204" r="29" class="nr"/><text x="1200" y="2204" font-size="53" class="lw">food security</text></g>
<g id="n-resilience"><circle cx="1759" cy="2215" r="31" class="nr"/><text x="1759" y="2215" font-size="60" class="lw">resilience</text></g>
<g id="n-urbanization"><circle cx="2055" cy="1759" r="27" class="nb"/><text x="2055" y="1759" font-size="52" class="lw">urbanization</text></g>
<g id="n-urban-planning"><circle cx="2420" cy="1835" r="36" class="nb"/><text x="2420" y="1835" font-size="60" class="lw">urban planning</text></g>
<g id="n-urban-growth"><circle cx="2845" cy="1830" r="31" class="nb"/><text x="2845" y="1830" font-size="58" class="lw">urban growth</text></g>
<g id="n-urban-development"><circle cx="2638" cy="1933" r="36" class="nb"/><text x="2638" y="1933" font-size="59" class="lw">urban development</text></g>
<g id="n-sustainable-city"><circle cx="2705" cy="2093" r="24" class="nb"/><text x="2705" y="2093" font-size="47" class="lw">sustainable city</text></g>
<g id="n-big-data"><circle cx="3021" cy="1298" r="31" class="nb"/><text x="3021" y="1298" font-size="59" class="lw">big data</text></g>
<g id="n-blockchain"><circle cx="3282" cy="1380" r="27" class="nb"/><text x="3282" y="1380" font-size="52" class="lw">blockchain</text></g>
<g id="n-iot"><circle cx="3242" cy="1527" r="38" class="nb"/><text x="3242" y="1527" font-size="58" class="lw">iot</text></g>
<g id="n-smart-cities"><circle cx="2972" cy="1558" r="67" class="nb"/><text x="2972" y="1558" font-size="74" class="lw">smart cities</text></g>
<g id="n-smart-city"><circle cx="2923" cy="1703" r="107" class="nb"/><text x="2923" y="1703" font-size="93" class="lw">smart city</text></g>
<g id="n-sustainable-development"><circle cx="2075" cy="1075" r="100" class="ng"/><text x="2075" y="1075" font-size="90" class="lw">sustainable development</text></g>
</g>
</svg>
